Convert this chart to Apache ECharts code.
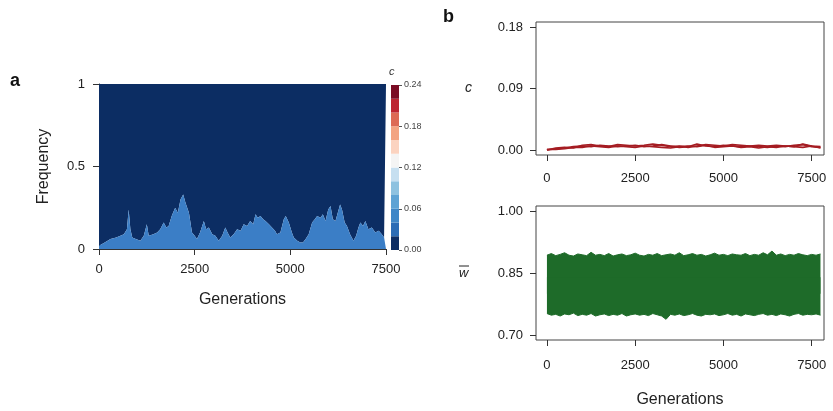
<!DOCTYPE html>
<html>
<head>
<meta charset="utf-8">
<script src="https://cdn.jsdelivr.net/npm/echarts@6/dist/echarts.min.js"></script>
<style>
  html, body { margin: 0; padding: 0; background: #fff; }
  #main { width: 833px; height: 411px; }
</style>
</head>
<body>
<div id="main"></div>
<script>
// panel a: frequency of the low-c class over generations
const gensA = [0,150,300,450,560,650,730,775,820,870,
  960,1080,1170,1250,1300,1340,1420,1520,1600,1690,
  1760,1820,1900,1990,2060,2130,2200,2260,2300,2350,
  2430,2500,2560,2640,2740,2800,2870,2960,3040,3130,
  3220,3300,3360,3430,3520,3610,3700,3780,3870,3950,
  4030,4090,4150,4220,4290,4350,4440,4520,4600,4650,
  4740,4830,4880,4960,5040,5090,5180,5260,5330,5400,
  5480,5570,5640,5700,5790,5850,5920,5990,6050,6110,
  6180,6240,6300,6350,6420,6480,6560,6650,6720,6780,
  6830,6900,6960,7040,7130,7220,7310,7390,7450,7500];
const freqA = [0.02,0.04,0.06,0.07,0.08,0.09,0.12,0.24,0.12,0.07,
  0.06,0.05,0.08,0.15,0.08,0.07,0.09,0.10,0.12,0.16,
  0.13,0.14,0.20,0.25,0.22,0.30,0.33,0.28,0.29,0.22,
  0.10,0.08,0.06,0.10,0.17,0.12,0.13,0.09,0.08,0.05,
  0.08,0.13,0.10,0.07,0.09,0.12,0.11,0.15,0.14,0.17,
  0.15,0.21,0.19,0.20,0.18,0.17,0.15,0.13,0.11,0.09,
  0.10,0.18,0.20,0.16,0.10,0.07,0.05,0.04,0.04,0.06,
  0.09,0.16,0.18,0.20,0.19,0.21,0.17,0.24,0.26,0.18,
  0.17,0.22,0.27,0.24,0.16,0.14,0.09,0.05,0.08,0.13,
  0.16,0.14,0.17,0.12,0.13,0.10,0.11,0.09,0.07,0.06];

// colour scale of c (0.00 .. 0.24, steps of 0.02)
const cBands = ['#0b2c63','#2b6cb5','#3f87c7','#5ea3d4','#8ec2e0','#c6dff0',
  '#f4f4f4','#fbd3c0','#f3a482','#dd6a55','#bd2531','#7a0c24'];
const cStep = 0.02;

// panel b top: c in three runs
const gensC = [0,250,500,750,1000,1250,1500,1750,2000,2250,2500,2750,3000,3250,3500,3750,
  4000,4250,4500,4750,5000,5250,5500,5750,6000,6250,6500,6750,7000,7250,7500,7750];
const cRun1 = [0.000,0.002,0.003,0.005,0.006,0.005,0.007,0.006,0.005,0.006,0.007,0.005,0.006,0.008,0.006,0.004,
  0.005,0.009,0.006,0.005,0.007,0.006,0.005,0.006,0.005,0.004,0.006,0.005,0.007,0.008,0.005,0.004];
const cRun2 = [0.001,0.001,0.002,0.004,0.004,0.006,0.005,0.004,0.006,0.005,0.004,0.006,0.005,0.004,0.003,0.005,
  0.006,0.005,0.007,0.004,0.005,0.006,0.004,0.005,0.003,0.005,0.004,0.006,0.005,0.004,0.006,0.003];
const cRun3 = [0.000,0.003,0.004,0.003,0.007,0.008,0.006,0.005,0.008,0.007,0.006,0.007,0.009,0.007,0.005,0.006,
  0.004,0.006,0.008,0.007,0.006,0.008,0.007,0.006,0.007,0.006,0.007,0.006,0.005,0.009,0.006,0.005];

// panel b bottom: envelope of mean fitness
const gensW = [0,125,250,375,500,625,750,875,1000,1125,1250,1375,1500,1625,1750,1875,
  2000,2125,2250,2375,2500,2625,2750,2875,3000,3125,3250,3375,3500,3625,3750,3875,
  4000,4125,4250,4375,4500,4625,4750,4875,5000,5125,5250,5375,5500,5625,5750,5875,
  6000,6125,6250,6375,6500,6625,6750,6875,7000,7125,7250,7375,7500,7625,7750];
const wUpper = [0.893,0.897,0.892,0.895,0.899,0.893,0.891,0.896,0.894,0.892,
  0.900,0.893,0.895,0.892,0.897,0.891,0.894,0.896,0.892,0.894,
  0.898,0.893,0.891,0.895,0.893,0.897,0.892,0.894,0.896,0.893,
  0.899,0.892,0.894,0.897,0.893,0.895,0.891,0.894,0.898,0.893,
  0.895,0.892,0.896,0.894,0.893,0.897,0.892,0.895,0.893,0.899,
  0.894,0.903,0.893,0.896,0.892,0.895,0.893,0.897,0.894,0.892,
  0.895,0.893,0.896];
const wLower = [0.752,0.748,0.750,0.746,0.751,0.749,0.753,0.747,0.750,0.748,
  0.752,0.746,0.749,0.751,0.747,0.750,0.748,0.752,0.746,0.749,
  0.751,0.748,0.750,0.747,0.752,0.749,0.746,0.738,0.750,0.748,
  0.751,0.747,0.749,0.752,0.748,0.746,0.750,0.749,0.751,0.747,
  0.749,0.752,0.748,0.750,0.746,0.751,0.749,0.747,0.750,0.752,
  0.748,0.750,0.747,0.751,0.749,0.746,0.750,0.752,0.748,0.750,
  0.749,0.751,0.748];

const genTicks = [0, 2500, 5000, 7500];
const cTicks = [0, 0.09, 0.18];
const wTicks = [0.70, 0.85, 1.00];

const font = 'Liberation Sans, Arial, Helvetica, sans-serif';
const ink = '#222';
const green = '#1e6b29';

function pairs(xs, ys) {
  return xs.map((x, i) => [x, ys[i]]);
}

var myChart = echarts.init(document.getElementById('main'));

const tick = { show: true, inside: false, length: 6, lineStyle: { color: '#333' } };
const line = { show: true, onZero: false, lineStyle: { color: '#333', width: 1 } };
const noLine = { show: false, onZero: false };
const plain = v => String(v);

var option = {
  animation: false,
  textStyle: { fontFamily: font, color: ink },
  grid: [
    { left: 99, top: 84, width: 287, height: 165 },
    { left: 391, top: 85, width: 8, height: 165 },
    { left: 536, top: 22, width: 288, height: 133, show: true, borderColor: '#444', borderWidth: 1 },
    { left: 536, top: 206, width: 288, height: 134, show: true, borderColor: '#444', borderWidth: 1 }
  ],
  xAxis: [
    {
      gridIndex: 0, type: 'value', min: 0, max: 7500, interval: 2500,
      axisLine: line, axisTick: tick, splitLine: { show: false },
      axisLabel: { margin: 14, fontSize: 13, color: ink, fontFamily: font, formatter: plain },
      name: 'Generations', nameLocation: 'middle', nameGap: 43,
      nameTextStyle: { fontSize: 16, color: ink, fontFamily: font }
    },
    { gridIndex: 1, type: 'category', data: ['c'], show: false },
    {
      gridIndex: 2, type: 'value', min: -310, max: 7850,
      axisLine: noLine, splitLine: { show: false },
      axisTick: Object.assign({ customValues: genTicks }, tick),
      axisLabel: { customValues: genTicks, margin: 17, fontSize: 13, color: ink, fontFamily: font, formatter: plain }
    },
    {
      gridIndex: 3, type: 'value', min: -310, max: 7850,
      axisLine: noLine, splitLine: { show: false },
      axisTick: Object.assign({ customValues: genTicks }, tick),
      axisLabel: { customValues: genTicks, margin: 19, fontSize: 13, color: ink, fontFamily: font, formatter: plain },
      name: 'Generations', nameLocation: 'middle', nameGap: 52,
      nameTextStyle: { fontSize: 16, color: ink, fontFamily: font }
    }
  ],
  yAxis: [
    {
      gridIndex: 0, type: 'value', min: 0, max: 1, interval: 0.5,
      axisLine: line, axisTick: tick, splitLine: { show: false },
      axisLabel: { margin: 14, fontSize: 13, color: ink, fontFamily: font },
      name: 'Frequency', nameLocation: 'middle', nameGap: 47,
      nameTextStyle: { fontSize: 16, color: ink, fontFamily: font }
    },
    {
      gridIndex: 1, type: 'value', position: 'right', min: 0, max: 0.24, interval: 0.06,
      axisLine: noLine, splitLine: { show: false },
      axisTick: { show: true, inside: false, length: 3, lineStyle: { color: '#555' } },
      axisLabel: { margin: 5, fontSize: 9, color: '#444', fontFamily: font,
        formatter: v => v.toFixed(2) }
    },
    {
      gridIndex: 2, type: 'value', min: -0.0072, max: 0.1872,
      axisLine: noLine, splitLine: { show: false },
      axisTick: Object.assign({ customValues: cTicks }, tick),
      axisLabel: { customValues: cTicks, margin: 13, fontSize: 13, color: ink, fontFamily: font,
        formatter: v => v.toFixed(2) }
    },
    {
      gridIndex: 3, type: 'value', min: 0.688, max: 1.012,
      axisLine: noLine, splitLine: { show: false },
      axisTick: Object.assign({ customValues: wTicks }, tick),
      axisLabel: { customValues: wTicks, margin: 13, fontSize: 13, color: ink, fontFamily: font,
        formatter: v => v.toFixed(2) }
    }
  ],
  series: [
    {
      // c ~ 0 class: fills from the frequency curve up to 1
      type: 'line', xAxisIndex: 0, yAxisIndex: 0,
      data: pairs(gensA, freqA), symbol: 'none',
      lineStyle: { width: 0 }, areaStyle: { color: '#0c2d63', opacity: 1, origin: 'end' }
    },
    {
      type: 'line', xAxisIndex: 0, yAxisIndex: 0,
      data: pairs(gensA, freqA), symbol: 'none',
      lineStyle: { width: 0 }, areaStyle: { color: '#3b7ec6', opacity: 1, origin: 'start' }
    }
  ].concat(cBands.map(c => ({
    type: 'bar', xAxisIndex: 1, yAxisIndex: 1, stack: 'cb', barWidth: '100%',
    data: [cStep], itemStyle: { color: c }, silent: true
  }))).concat([cRun1, cRun2, cRun3].map(run => ({
    type: 'line', xAxisIndex: 2, yAxisIndex: 2, data: pairs(gensC, run),
    symbol: 'none', lineStyle: { color: '#a51c22', width: 1.6 }
  }))).concat([
    {
      // the two halves overlap in the middle so no seam shows
      type: 'line', xAxisIndex: 3, yAxisIndex: 3,
      data: pairs(gensW, wUpper), symbol: 'none',
      lineStyle: { color: green, width: 1 }, areaStyle: { color: green, opacity: 1, origin: 0.80 }
    },
    {
      type: 'line', xAxisIndex: 3, yAxisIndex: 3,
      data: pairs(gensW, wLower), symbol: 'none',
      lineStyle: { color: green, width: 1 }, areaStyle: { color: green, opacity: 1, origin: 0.84 }
    }
  ]),
  graphic: [
    { type: 'text', left: 10, top: 72, style: { text: 'a', font: 'bold 18px ' + font, fill: '#111' } },
    { type: 'text', left: 443, top: 8, style: { text: 'b', font: 'bold 18px ' + font, fill: '#111' } },
    { type: 'text', left: 389, top: 66, style: { text: 'c', font: 'italic 11px ' + font, fill: '#333' } },
    { type: 'text', left: 465, top: 81, style: { text: 'c', font: 'italic 14px ' + font, fill: ink } },
    { type: 'text', left: 459, top: 267, style: { text: 'w', font: 'italic 13px ' + font, fill: ink } },
    { type: 'line', shape: { x1: 459, y1: 266, x2: 469, y2: 266 }, style: { stroke: ink, lineWidth: 1 } }
  ]
};

myChart.setOption(option);
</script>
</body>
</html>
